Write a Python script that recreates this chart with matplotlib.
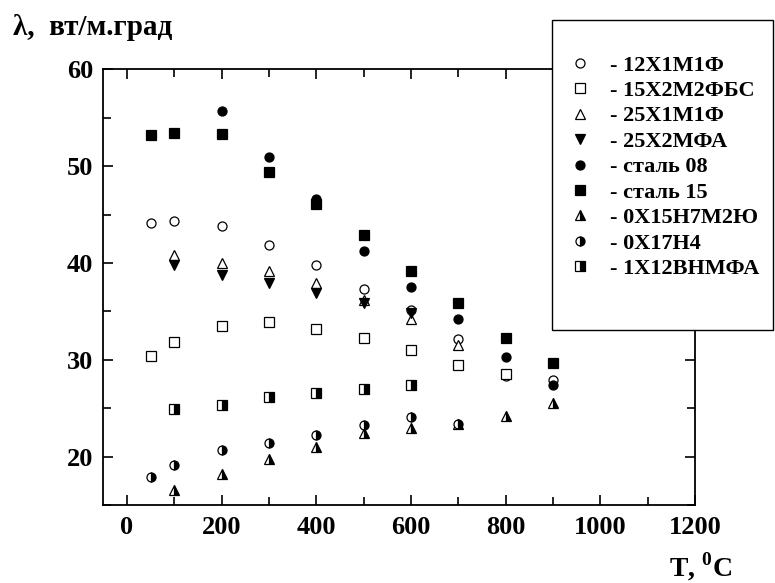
import matplotlib
matplotlib.use("Agg")
import matplotlib.pyplot as plt
from matplotlib.patches import Rectangle
from matplotlib.ticker import MultipleLocator

plt.rcParams['font.family'] = ['Liberation Serif', 'DejaVu Serif']
plt.rcParams['font.weight'] = 'bold'
plt.rcParams['mathtext.fontset'] = 'custom'
plt.rcParams['mathtext.rm'] = 'Liberation Serif:bold'
plt.rcParams['mathtext.bf'] = 'Liberation Serif:bold'

# temperatures, deg C
t_12x1m1f = [50, 100, 200, 300, 400, 500, 600, 700, 800, 900]
v_12x1m1f = [44.1, 44.3, 43.8, 41.9, 39.8, 37.3, 35.1, 32.1, 28.3, 27.9]

t_15x2m2fbs = [50, 100, 200, 300, 400, 500, 600, 700, 800]
v_15x2m2fbs = [30.4, 31.8, 33.5, 33.9, 33.2, 32.2, 31.0, 29.5, 28.5]

t_25x1m1f = [100, 200, 300, 400, 500, 600, 700]
v_25x1m1f = [40.8, 40.0, 39.2, 37.9, 36.2, 34.2, 31.5]

t_25x2mfa = [100, 200, 300, 400, 500, 600]
v_25x2mfa = [39.8, 38.8, 37.9, 36.9, 35.9, 34.8]

t_st08 = [200, 300, 400, 500, 600, 700, 800, 900]
v_st08 = [55.65, 50.96, 46.6, 41.2, 37.5, 34.2, 30.3, 27.4]

t_st15 = [50, 100, 200, 300, 400, 500, 600, 700, 800, 900]
v_st15 = [53.2, 53.4, 53.3, 49.35, 46.07, 42.9, 39.2, 35.9, 32.3, 29.7]

t_0x15 = [100, 200, 300, 400, 500, 600, 700, 800, 900]
v_0x15 = [16.6, 18.2, 19.7, 21.0, 22.4, 23.0, 23.4, 24.2, 25.5]

t_0x17 = [50, 100, 200, 300, 400, 500, 600, 700]
v_0x17 = [17.9, 19.1, 20.7, 21.4, 22.2, 23.3, 24.1, 23.4]

t_1x12 = [100, 200, 300, 400, 500, 600]
v_1x12 = [24.9, 25.3, 26.2, 26.6, 27.0, 27.4]

labels = ['- 12Х1М1Ф', '- 15Х2М2ФБС', '- 25Х1М1Ф', '- 25Х2МФА', '- сталь 08',
          '- сталь 15', '- 0Х15Н7М2Ю', '- 0Х17Н4', '- 1Х12ВНМФА']

fig = plt.figure(figsize=(7.75, 5.83), dpi=100)
ax = fig.add_axes([0.1325, 0.1338, 0.7643, 0.7473])

ms = 6.5
common = dict(linestyle='none', markeredgecolor='black', markeredgewidth=0.9, markersize=ms)

h = []
h += ax.plot(t_12x1m1f, v_12x1m1f, marker='o', markerfacecolor='white', **common)
h += ax.plot(t_15x2m2fbs, v_15x2m2fbs, marker='s', markerfacecolor='white', **common)
h += ax.plot(t_25x1m1f, v_25x1m1f, marker='^', markerfacecolor='white', **common)
h += ax.plot(t_25x2mfa, v_25x2mfa, marker='v', markerfacecolor='black', **common)
h += ax.plot(t_st08, v_st08, marker='o', markerfacecolor='black', **common)
h += ax.plot(t_st15, v_st15, marker='s', markerfacecolor='black', **common)
h += ax.plot(t_0x15, v_0x15, marker='^', fillstyle='right', markerfacecolor='black',
             markerfacecoloralt='white', **common)
h += ax.plot(t_0x17, v_0x17, marker='o', fillstyle='right', markerfacecolor='black',
             markerfacecoloralt='white', **common)
h += ax.plot(t_1x12, v_1x12, marker='s', fillstyle='right', markerfacecolor='black',
             markerfacecoloralt='white', **common)

ax.set_xlim(-51, 1200)
ax.set_ylim(15, 60)
ax.xaxis.set_major_locator(MultipleLocator(200))
ax.xaxis.set_minor_locator(MultipleLocator(100))
ax.yaxis.set_major_locator(MultipleLocator(10))
ax.yaxis.set_minor_locator(MultipleLocator(5))
ax.tick_params(which='both', direction='in', top=True, right=True, width=1.2,
               labelsize=19)
ax.tick_params(axis='x', pad=8)
ax.tick_params(axis='y', pad=7)
ax.tick_params(which='major', length=7)
ax.tick_params(which='minor', length=6)
for s in ax.spines.values():
    s.set_linewidth(1.3)

fig.text(13 / 775, 1 - 35 / 583, 'λ,  вт/м.град', fontsize=21, fontweight='bold',
         ha='left', va='baseline')
fig.text(669 / 775, 1 - 576 / 583, r'T, $^{0}$C', fontsize=20, fontweight='bold',
         ha='left', va='baseline')

# legend box over the top right corner
fig.add_artist(Rectangle((552 / 775, 1 - 330 / 583), 221 / 775, 310 / 583,
                         transform=fig.transFigure, facecolor='white',
                         edgecolor='black', linewidth=1.0, zorder=3))
leg = fig.legend(h, labels, loc='upper left', bbox_to_anchor=(569 / 775, 1 - 55 / 583),
                 frameon=False, fontsize=16, handlelength=1.0, handletextpad=0.86,
                 labelspacing=0.22, borderpad=0, borderaxespad=0, markerscale=1.0)
leg.set_zorder(4)

fig.savefig('out.png', dpi=100)
